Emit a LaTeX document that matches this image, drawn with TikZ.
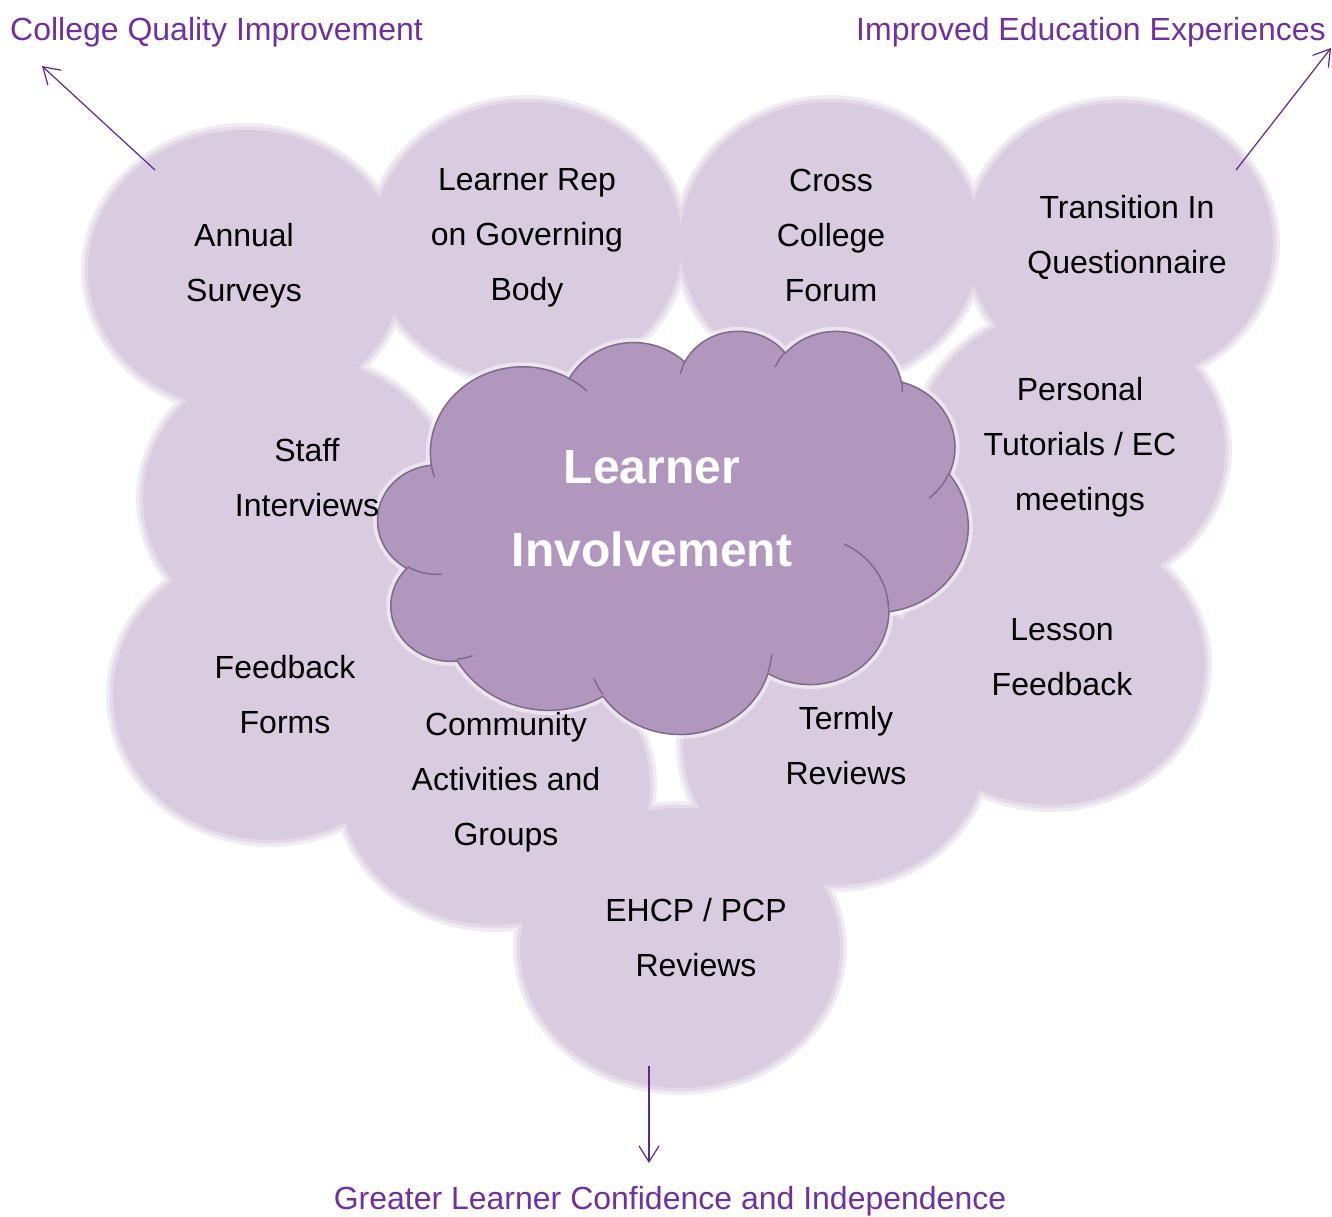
\documentclass[tikz,border=0pt]{standalone}
\usepackage{fontspec}
\setmainfont{Liberation Sans}
\usetikzlibrary{arrows.meta}
\definecolor{blob}{HTML}{D9CCE0}
\definecolor{blobrim}{HTML}{E4DAE8}
\definecolor{blobhaze}{HTML}{F1ECF3}
\definecolor{cloudfill}{HTML}{B197BD}
\definecolor{cloudline}{HTML}{7E6A89}
\definecolor{outcome}{HTML}{7030A0}
% angle on a puff ellipse, turned into the parameter TikZ wants
\pgfmathdeclarefunction{puffang}{3}{%
    \begingroup
    \pgfmathparse{atan2(#1*sin(#3),#2*cos(#3))}%
    \pgfmathsmuggle\pgfmathresult
    \endgroup}
\tikzset{
    TX/.style ={align=center, inner sep=0pt, font=\fontsize{32}{55}\selectfont, text=black},
    OC/.style ={inner sep=0pt, font=\fontsize{32}{38}\selectfont, text=outcome},
    AR/.style ={draw=outcome!85!black, line width=1.2pt, -{Straight Barb[length=16pt,width=20pt]}},
    puff/.style n args={4}{x radius=#1, y radius=#2, start angle={puffang(#1,#2,#3)},
        delta angle={mod(puffang(#1,#2,#3+#4)-puffang(#1,#2,#3)+720,360)}}}

\begin{document}
\begin{tikzpicture}[x=1pt,y=-1pt]
        \useasboundingbox (0,0) rectangle (1332,1216);
        % soft rims, then the bubbles
        \foreach \cx/\cy/\rx/\ry in {245/270/157/140, 527/242/155/140, 830/242/150/140,
                1120/243/153/140, 1070/450/155/140, 298/498/155/140, 270/695/157/145,
                495/785/155/140, 835/745/152/140, 680/948/160/140, 1050/665/155/140}
            \fill[blobhaze] (\cx,\cy) ellipse [x radius=\rx+7, y radius=\ry+7];
        \foreach \cx/\cy/\rx/\ry in {245/270/157/140, 527/242/155/140, 830/242/150/140,
                1120/243/153/140, 1070/450/155/140, 298/498/155/140, 270/695/157/145,
                495/785/155/140, 835/745/152/140, 680/948/160/140, 1050/665/155/140}
            \fill[blobrim] (\cx,\cy) ellipse [x radius=\rx+3.5, y radius=\ry+3.5];
        \foreach \cx/\cy/\rx/\ry in {245/270/157/140, 527/242/155/140, 830/242/150/140,
                1120/243/153/140, 1070/450/155/140, 298/498/155/140, 270/695/157/145,
                495/785/155/140, 835/745/152/140, 680/948/160/140, 1050/665/155/140}
            \fill[blob] (\cx,\cy) ellipse [x radius=\rx, y radius=\ry];
        % the cloud, in a 4320 x 4320 box
        \begin{scope}[shift={(378,330)}, x=0.136574pt, y=-0.093287pt]
            \filldraw[fill=cloudfill, draw=cloudline, line width=1.5pt,
                    preaction={draw=white, line width=9pt, opacity=.5}] (390,1437)
                \foreach \w/\h/\s/\d in {675.3/919.0/-190.4875/123.7805, 533.3/726.7/-144.1024/89.9452,
                        436.5/594.5/-145.8079/99.7230, 485.7/659.5/-130.9861/117.2417,
                        533.3/727.3/-78.7089/109.0269, 677.5/922.0/-46.2673/130.2690,
                        578.5/786.7/0.6250/114.0333, 675.2/921.5/22.4516/115.1726,
                        772.0/1054.3/66.2426/75.7110, 436.0/591.8/-274.9421/146.7356,
                        434.5/594.5/-246.8285/152.5189}
                    { arc [puff={\w}{\h}{\s}{\d}] } -- cycle;
            \draw[cloudline, line width=1.5pt]
                \foreach \px/\py/\w/\h/\s/\d in {469.3/2617.7/434.5/594.5/86.742/26.4295,
                        692.8/3489.9/436.0/591.8/73.6105/11.4475, 1647.8/3909.0/675.2/921.5/137.6242/14.0811,
                        2882.7/3475.1/675.2/921.5/6.4533/15.9984, 3412.9/2295.4/578.5/786.7/-70.2924/70.9174,
                        4179.8/1535.4/533.3/727.3/30.318/27.7515, 3832.4/542.6/485.7/659.5/-13.7443/14.8589,
                        2907.8/395.2/485.7/659.5/-149.1815/18.1954, 2214.1/472.0/436.5/594.5/-163.4943/17.6864,
                        1400.0/519.2/675.3/919.0/-66.7070/12.3194, 412.7/1578.9/675.3/919.0/157.6544/11.8582}
                    { (\px,\py) arc [puff={\w}{\h}{\s}{\d}] };
        \end{scope}
        \node[align=center, font=\fontsize{48}{83}\selectfont\bfseries, text=white] (hubtitle) at (652,509) {Learner\\Involvement};
        \node[TX] (annual) at (244,266) {Annual\\Surveys};
        \node[TX] (rep) at (527,238) {Learner Rep\\on Governing\\Body};
        \node[TX] (forum) at (831,235) {Cross\\College\\Forum};
        \node[TX] (transition) at (1127,237) {Transition In\\Questionnaire};
        \node[TX] (tutorial) at (1080,447) {Personal\\Tutorials / EC\\meetings};
        \node[TX] (staff) at (307,478) {Staff\\Interviews};
        \node[TX] (forms) at (285,695) {Feedback\\Forms};
        \node[TX] (community) at (506,782) {Community\\Activities and\\Groups};
        \node[TX] (termly) at (846,746) {Termly\\Reviews};
        \node[TX] (lesson) at (1062,657) {Lesson\\Feedback};
        \node[TX] (ehcp) at (696,938) {EHCP / PCP\\Reviews};
        \node[OC, anchor=base west] (quality) at (10,40) {College Quality Improvement};
        \node[OC, anchor=base east] (experience) at (1326,40) {Improved Education Experiences};
        \node[OC, anchor=base] (confidence) at (670,1209) {Greater Learner Confidence and Independence};
        \coordinate (qfoot) at (155,170);
        \coordinate (qtip) at (42,66);
        \coordinate (efoot) at (1236,170);
        \coordinate (etip) at (1331,48);
        \coordinate (cfoot) at (649,1066);
        \coordinate (ctip) at (649,1163);
        \draw[AR] (qfoot) -- (qtip);
        \draw[AR] (efoot) -- (etip);
        \draw[AR] (cfoot) -- (ctip);
\end{tikzpicture}
\end{document}
